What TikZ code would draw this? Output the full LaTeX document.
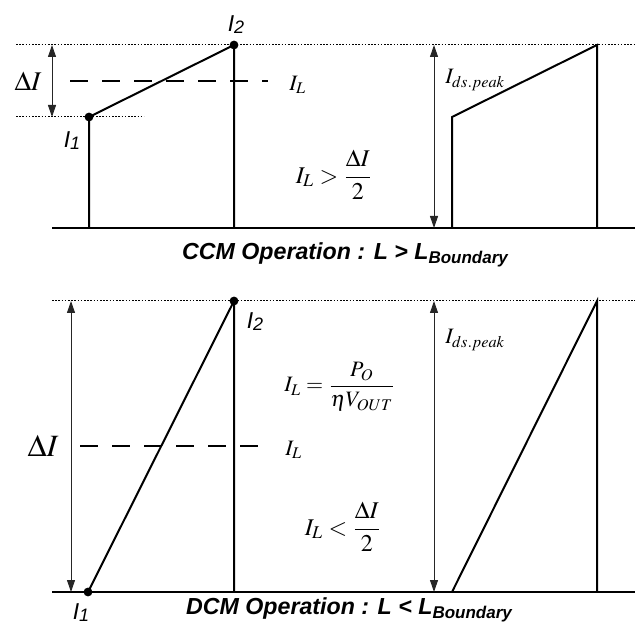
\documentclass[tikz,border=0pt]{standalone}
\usepackage{mathptmx}
\usepackage{fontspec}
\setmainfont{Liberation Serif}
\setsansfont{Liberation Sans}
\usetikzlibrary{arrows.meta}

\begin{document}
\begin{tikzpicture}[x=0.5pt, y=-0.5pt,
    wave/.style={line width=1pt, line join=miter},
    axis/.style={line width=1.1pt},
    guide/.style={line width=0.5pt, dash pattern=on 0.8pt off 0.8pt},
    level/.style={line width=0.6pt, dash pattern=on 9pt off 7pt},
    meas/.style={line width=0.5pt, black!85, {Triangle[length=6pt,width=4pt]}-{Triangle[length=6pt,width=4pt]}},
    dot/.style={circle, fill, inner sep=0pt, minimum size=4.4pt},
    lbl/.style={font=\sffamily\itshape\fontsize{11.5}{13}\selectfont, inner sep=0pt},
    mth/.style={font=\fontsize{11}{13}\selectfont, inner sep=0pt},
    caption/.style={font=\sffamily\bfseries\itshape\fontsize{11.6}{13}\selectfont, inner sep=0pt}
]
\useasboundingbox (0,0) rectangle (635,624);

% CCM panel
\coordinate (cb0) at (52,228);
\coordinate (cb1) at (635,228);
\coordinate (cg0) at (16,45);
\coordinate (cg1) at (635,45);
\coordinate (cm0) at (16,117);
\coordinate (cm1) at (144,117);
\coordinate (cda) at (52,45);
\coordinate (cdb) at (52,117);
\coordinate (cl0) at (70,81);
\coordinate (cl1) at (268,81);
\node[dot] (ci1) at (89,117) {};
\node[dot] (ci2) at (234,45) {};
\coordinate (cf1) at (89,228);
\coordinate (cf2) at (234,228);
\coordinate (cpa) at (434,45);
\coordinate (cpb) at (434,228);
\coordinate (cs0) at (452,228);
\coordinate (cs1) at (452,117);
\coordinate (cs2) at (597,45);
\coordinate (cs3) at (597,228);

\draw[axis] (cb0) -- (cb1);
\draw[guide] (cg0) -- (cg1);
\draw[guide] (cm0) -- (cm1);
\draw[meas] (cda) -- (cdb);
\draw[level] (cl0) -- (cl1);
\draw[wave] (cf1) -- (ci1.center) -- (ci2.center) -- (cf2);
\draw[meas] (cpa) -- (cpb);
\draw[wave] (cs0) -- (cs1) -- (cs2) -- (cs3);

\node[mth, font=\fontsize{13.5}{15}\selectfont] (cdI) at (28,81) {$\Delta I$};
\node[mth, anchor=west] (cIL) at (289,85) {$I_L$};
\node[lbl] (cn1) at (72,141) {I\raisebox{-1pt}{\fontsize{9}{10}\selectfont 1}};
\node[lbl] (cn2) at (236,25) {I\raisebox{-1pt}{\fontsize{9}{10}\selectfont 2}};
\node[mth, font=\fontsize{12}{14}\selectfont] (crule) at (334,175) {$\displaystyle I_L > \frac{\Delta I}{2}$};
\node[mth, anchor=west] (cpk) at (445,80) {$I_{ds.peak}$};
\node[caption] (ctitle) at (345,255) {CCM Operation : L > L\raisebox{-2.3pt}{\fontsize{8.5}{9}\selectfont Boundary}};

% DCM panel
\coordinate (db0) at (52,592);
\coordinate (db1) at (635,592);
\coordinate (dg0) at (52,301);
\coordinate (dg1) at (635,301);
\coordinate (dda) at (71,301);
\coordinate (ddb) at (71,592);
\coordinate (dl0) at (80,446);
\coordinate (dl1) at (272,446);
\node[dot] (di1) at (88,592) {};
\node[dot] (di2) at (234,301) {};
\coordinate (df2) at (234,592);
\coordinate (dpa) at (434,301);
\coordinate (dpb) at (434,592);
\coordinate (ds0) at (452,592);
\coordinate (ds1) at (597,301);
\coordinate (ds2) at (597,592);

\draw[axis] (db0) -- (db1);
\draw[guide] (dg0) -- (dg1);
\draw[meas] (dda) -- (ddb);
\draw[level] (dl0) -- (dl1);
\draw[wave] (di1.center) -- (di2.center) -- (df2);
\draw[meas] (dpa) -- (dpb);
\draw[wave] (ds0) -- (ds1) -- (ds2);

\node[mth, font=\fontsize{15.5}{17}\selectfont] (ddI) at (43,446) {$\Delta I$};
\node[mth, anchor=west] (dIL) at (285,450) {$I_L$};
\node[lbl] (dn1) at (81,613) {I\raisebox{-1pt}{\fontsize{9}{10}\selectfont 1}};
\node[lbl] (dn2) at (255,322) {I\raisebox{-1pt}{\fontsize{9}{10}\selectfont 2}};
\node[mth] (dload) at (340,387) {$\displaystyle I_L = \frac{P_O}{\eta V_{OUT}}$};
\node[mth, font=\fontsize{12}{14}\selectfont] (drule) at (343,527) {$\displaystyle I_L < \frac{\Delta I}{2}$};
\node[mth, anchor=west] (dpk) at (445,340) {$I_{ds.peak}$};
\node[caption] (dtitle) at (349,610) {DCM Operation : L < L\raisebox{-2.3pt}{\fontsize{8.5}{9}\selectfont Boundary}};
\end{tikzpicture}
\end{document}
